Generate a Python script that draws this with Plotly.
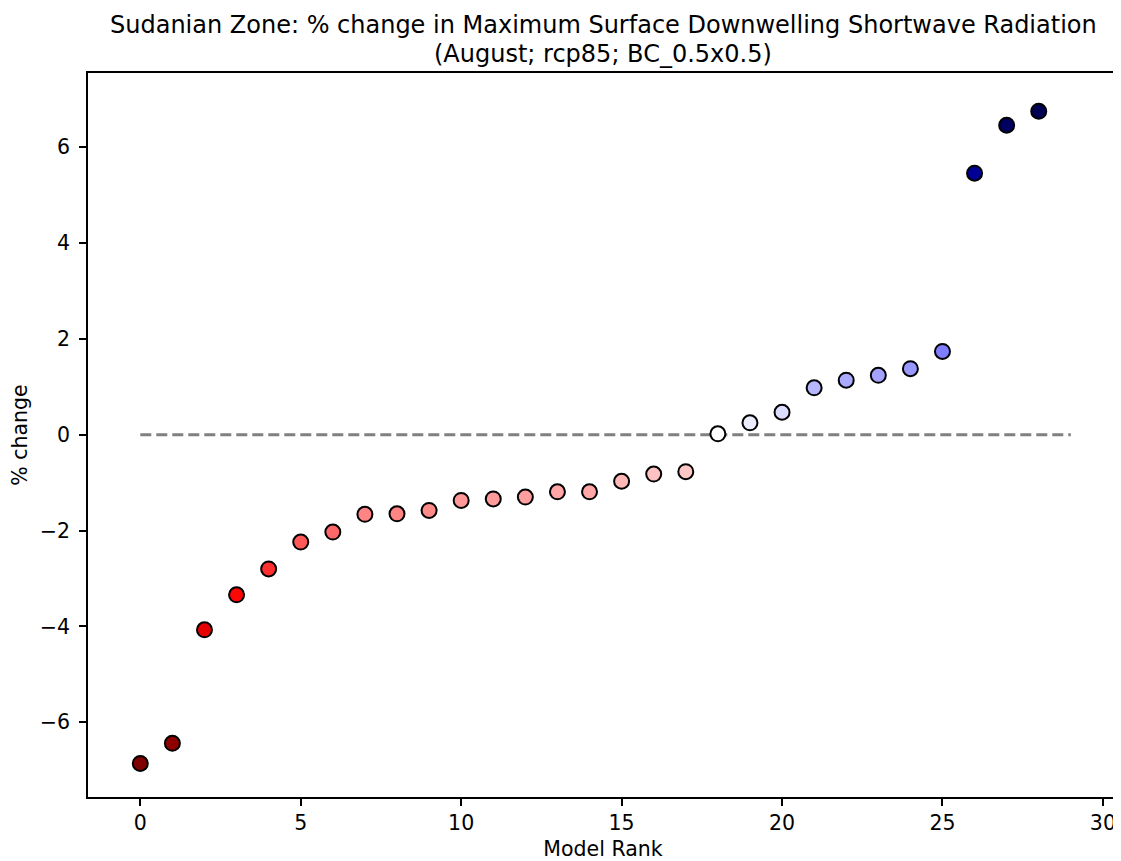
import plotly.graph_objects as go

# Data
model_rank = list(range(29))
pct_change = [-6.86, -6.44, -4.07, -3.34, -2.80, -2.24, -2.03, -1.66, -1.65, -1.58,
              -1.37, -1.34, -1.30, -1.19, -1.19, -0.97, -0.82, -0.77, 0.02, 0.25,
              0.47, 0.98, 1.14, 1.24, 1.38, 1.74, 5.46, 6.46, 6.75]
zero_line_x = [0, 29]
zero_line_y = [0, 0]
x_ticks = [0, 5, 10, 15, 20, 25, 30]
y_ticks = [-6, -4, -2, 0, 2, 4, 6]

title_line1 = "Sudanian Zone: % change in Maximum Surface Downwelling Shortwave Radiation"
title_line2 = "(August; rcp85; BC_0.5x0.5)"

# matplotlib 'seismic_r' colormap
seismic_r = [
    [0.0, "rgb(127,0,0)"],
    [0.25, "rgb(255,0,0)"],
    [0.5, "rgb(255,255,255)"],
    [0.75, "rgb(0,0,255)"],
    [1.0, "rgb(0,0,76)"],
]
vlim = max(abs(v) for v in pct_change)

FONT = "DejaVu Sans"
FS = 20.5

fig = go.Figure()
fig.add_trace(go.Scatter(
    x=zero_line_x, y=zero_line_y, mode="lines",
    line=dict(color="rgb(128,128,128)", width=3, dash="11px,5px"),
    hoverinfo="skip", showlegend=False,
))
fig.add_trace(go.Scatter(
    x=model_rank, y=pct_change, mode="markers",
    marker=dict(size=15, color=pct_change, colorscale=seismic_r,
                cmin=-vlim, cmax=vlim, showscale=False,
                line=dict(color="black", width=2)),
    showlegend=False,
))

fig.update_layout(
    width=1113, height=853,
    paper_bgcolor="white", plot_bgcolor="white",
    margin=dict(l=80, r=3, t=64.7, b=64.3, autoexpand=False),
    font=dict(family=FONT, size=FS, color="black"),
    annotations=[
        dict(text=title_line1, x=0.5, xref="paper", xanchor="center",
             y=1.0659, yref="paper", yanchor="middle", showarrow=False,
             font=dict(family=FONT, size=24, color="black")),
        dict(text=title_line2, x=0.5, xref="paper", xanchor="center",
             y=1.0265, yref="paper", yanchor="middle", showarrow=False,
             font=dict(family=FONT, size=24, color="black")),
    ],
)
fig.update_xaxes(
    range=[-1.63, 30.47], tickvals=x_ticks, ticktext=[str(t) for t in x_ticks],
    automargin=False,
    showgrid=False, zeroline=False,
    showline=True, mirror=True, linecolor="black", linewidth=1.6,
    ticks="outside", ticklen=7, tickwidth=1.6, tickcolor="black",
    tickfont=dict(family=FONT, size=FS),
    title=dict(text="Model Rank", font=dict(family=FONT, size=FS), standoff=13),
)
fig.update_yaxes(
    range=[-7.56, 7.55], tickvals=y_ticks,
    automargin=False,
    showgrid=False, zeroline=False,
    showline=True, mirror=True, linecolor="black", linewidth=1.6,
    ticks="outside", ticklen=7, tickwidth=1.6, tickcolor="black",
    ticklabelstandoff=5,
    tickfont=dict(family=FONT, size=FS),
    title=dict(text="% change", font=dict(family=FONT, size=FS), standoff=17),
)

fig.write_html("out.html")
